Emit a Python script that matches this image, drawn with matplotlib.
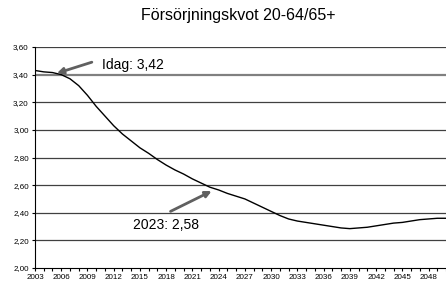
import numpy as np
import matplotlib.pyplot as plt

plt.rcParams['font.family'] = ['Liberation Sans', 'DejaVu Sans']

years = np.arange(2003, 2051)
kvot = [3.43, 3.42, 3.415, 3.40, 3.37, 3.32, 3.25, 3.17, 3.10, 3.03,
        2.97, 2.92, 2.87, 2.83, 2.785, 2.745, 2.71, 2.68, 2.645, 2.615,
        2.585, 2.565, 2.54, 2.52, 2.50, 2.47, 2.44, 2.41, 2.38, 2.355,
        2.34, 2.33, 2.32, 2.31, 2.30, 2.29, 2.285, 2.29, 2.295, 2.305,
        2.315, 2.325, 2.33, 2.34, 2.35, 2.355, 2.36, 2.36]
yticks = [2.00, 2.20, 2.40, 2.60, 2.80, 3.00, 3.20, 3.40, 3.60]
xlabels = list(range(2003, 2049, 3))

fig = plt.figure(figsize=(4.46, 2.86), dpi=100)
ax = fig.add_axes([35/446, 18/286, 411/446, 221/286])

for y in yticks[1:]:
    if abs(y - 3.40) < 1e-9:
        # this one looks lighter and a bit wider in the original
        ax.axhline(y, color='#808080', lw=1.6, zorder=1)
    else:
        ax.axhline(y, color='#404040', lw=0.9, zorder=1)

ax.plot(years, kvot, color='black', lw=1.0, zorder=3)

ax.set_ylim(2.0, 3.6)
ax.set_xlim(2003, 2049.8)
ax.set_yticks(yticks)
ax.set_yticklabels([f"{v:.2f}".replace('.', ',') for v in yticks], fontsize=5.8)
ax.set_xticks(xlabels)
ax.set_xticklabels([str(x) for x in xlabels], fontsize=5.8)
ax.set_xticks(years, minor=True)
ax.tick_params(axis='both', which='both', direction='out', length=2.5, width=0.8, pad=2)
ax.spines['top'].set_visible(False)
ax.spines['right'].set_visible(False)

arrow = dict(arrowstyle='-|>', color='#606060', lw=2.0, mutation_scale=9,
             shrinkA=0, shrinkB=0)
ax.annotate('', xy=(2005.5, 3.41), xytext=(2009.5, 3.49), arrowprops=arrow, zorder=4)
ax.text(2010.7, 3.47, 'Idag: 3,42', fontsize=10, va='center')
ax.annotate('', xy=(2023.2, 2.557), xytext=(2018.5, 2.41), arrowprops=arrow, zorder=4)
ax.text(2014.2, 2.31, '2023: 2,58', fontsize=10, va='center')

fig.text(0.534, 0.945, 'Försörjningskvot 20-64/65+', ha='center', va='center', fontsize=11.5)

fig.savefig('out.png', dpi=100)
